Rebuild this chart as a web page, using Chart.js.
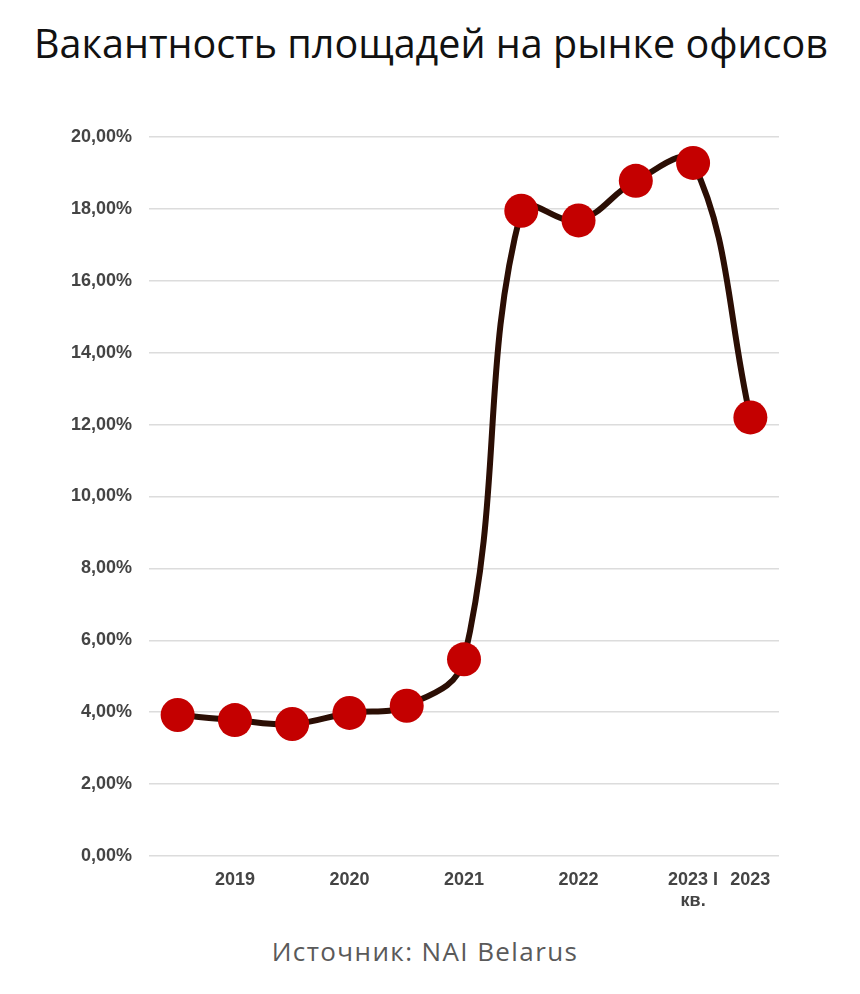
<!DOCTYPE html>
<html>
<head>
<meta charset="utf-8">
<script src="https://cdn.jsdelivr.net/npm/chart.js@4/dist/chart.umd.min.js"></script>
<style>
    body { margin: 0; background: #fff; width: 860px; height: 994px; position: relative; overflow: hidden; }
    h1 { position: absolute; left: 0; top: 16px; width: 862px; margin: 0; text-align: center;
         font: 400 39.5px "Open Sans", sans-serif; color: #111; }
    #chartBox { position: absolute; left: 0; top: 100px; width: 860px; height: 830px; }
    .source { position: absolute; left: 0; top: 933px; width: 850px; text-align: center;
              font: 400 26px "Open Sans", sans-serif; letter-spacing: 1.4px; color: #5a5a5a; }
</style>
</head>
<body>
<h1>Вакантность площадей на рынке офисов</h1>
<div id="chartBox"><canvas id="vacancyChart" width="860" height="830"></canvas></div>
<div class="source">Источник: NAI Belarus</div>
<script>
var periods = ['', '2019', '', '2020', '', '2021', '', '2022', '', ['2023 I', 'кв.'], '2023'];
var vacancy = [3.92, 3.78, 3.67, 3.98, 4.18, 5.47, 17.95, 17.68, 18.78, 19.28, 12.2];
var yTicks = [0, 2, 4, 6, 8, 10, 12, 14, 16, 18, 20];

document.addEventListener('DOMContentLoaded', function () {
    var ctx = document.getElementById('vacancyChart').getContext('2d');
    var tickFont = { family: '"Liberation Sans", Arial, sans-serif', size: 18, weight: 'bold' };

    new Chart(ctx, {
        type: 'line',
        data: {
            labels: periods,
            datasets: [{
                data: vacancy,
                borderColor: '#2b0e04',
                borderWidth: 6,
                tension: 0.4,
                pointRadius: 17,
                pointHoverRadius: 17,
                pointBackgroundColor: '#c40000',
                pointBorderColor: '#c40000',
                pointBorderWidth: 0
            }]
        },
        options: {
            responsive: false,
            animation: false,
            layout: { padding: { left: 0, right: 81, top: 37, bottom: 10 } },
            plugins: { legend: { display: false }, tooltip: { enabled: false } },
            scales: {
                x: {
                    offset: true,
                    grid: { display: false, drawTicks: false },
                    border: { display: false },
                    ticks: {
                        autoSkip: false,
                        maxRotation: 0,
                        padding: 13,
                        color: '#444',
                        font: tickFont
                    },
                    afterFit: function (scale) { scale.height = 64; }
                },
                y: {
                    min: 0,
                    max: 20,
                    afterBuildTicks: function (scale) {
                        scale.ticks = yTicks.map(function (v) { return { value: v }; });
                    },
                    grid: { color: '#dcdcdc', lineWidth: 1.5, drawTicks: false },
                    border: { display: false },
                    ticks: {
                        padding: 17,
                        color: '#444',
                        font: tickFont,
                        callback: function (v) { return v.toFixed(2).replace('.', ',') + '%'; }
                    },
                    afterFit: function (scale) { scale.width = 149; }
                }
            }
        }
    });
});
</script>
</body>
</html>
